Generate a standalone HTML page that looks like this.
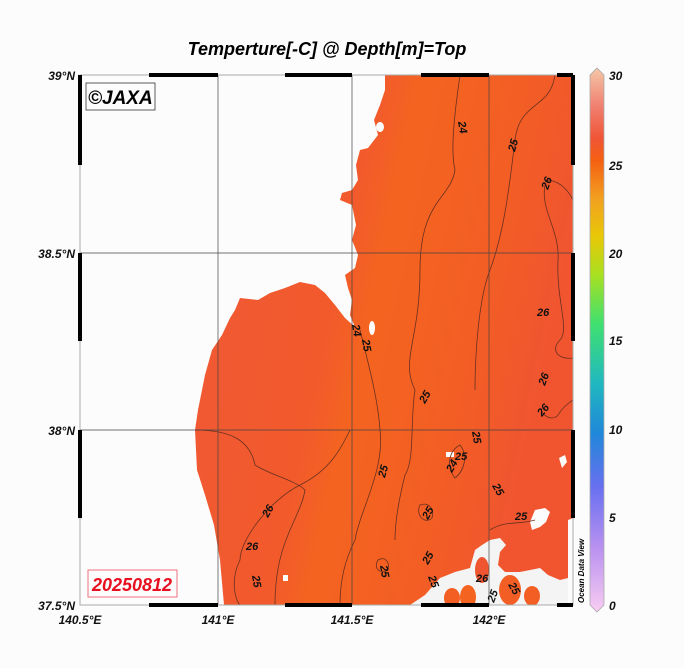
<!DOCTYPE html>
<html><head><meta charset="utf-8"><style>
html,body{margin:0;padding:0;background:#fcfcfc;}
svg{display:block;font-family:"Liberation Sans",sans-serif;}
.l{font-size:12px;font-weight:bold;font-style:italic;fill:#111;}
.c{font-size:11px;font-weight:bold;font-style:italic;fill:#111;}
</style></head><body>
<svg width="684" height="668" viewBox="0 0 684 668">
<defs>
<linearGradient id="sea" x1="0" y1="0" x2="1" y2="0.3">
<stop offset="0" stop-color="#ef5836"/><stop offset="0.45" stop-color="#f25a2c"/><stop offset="0.55" stop-color="#f46420"/><stop offset="0.8" stop-color="#f35e24"/><stop offset="1" stop-color="#f05530"/>
</linearGradient>
<linearGradient id="cb" x1="0" y1="0" x2="0" y2="1">
<stop offset="0" stop-color="#f4c8a8"/><stop offset="0.07" stop-color="#f08070"/><stop offset="0.13" stop-color="#f05535"/><stop offset="0.17" stop-color="#f46012"/><stop offset="0.24" stop-color="#f2a020"/><stop offset="0.31" stop-color="#e8c808"/><stop offset="0.38" stop-color="#a8e020"/><stop offset="0.47" stop-color="#40e070"/><stop offset="0.58" stop-color="#20b8c0"/><stop offset="0.67" stop-color="#2088d8"/><stop offset="0.77" stop-color="#6870f0"/><stop offset="0.88" stop-color="#b890f0"/><stop offset="1" stop-color="#f8cdf2"/>
</linearGradient>
<clipPath id="pc"><rect x="80" y="75" width="493" height="530"/></clipPath>
</defs>
<text x="327" y="55" text-anchor="middle" style="font-size:18px;font-weight:bold;font-style:italic">Temperture[-C] @ Depth[m]=Top</text>
<rect x="80" y="75" width="493" height="530" fill="#fcfcfc"/>
<g clip-path="url(#pc)">
<path fill="url(#sea)" d="M385,75 L385,90 380,105 374,120 378,135 368,148 360,150 356,165 358,180 352,190 342,193 340,200 352,205 356,225 352,240 358,255 355,268 345,275 348,288 352,300 350,315 355,327 345,318 335,305 325,293 315,285 300,282 285,288 270,293 258,300 240,298 235,310 230,318 222,335 212,350 205,375 198,410 195,430 197,470 205,495 214,525 220,560 224,605 573,605 573,75 Z"/>
<path fill="#f4f4f4" d="M410,605 L425,595 440,578 455,572 470,568 475,550 482,545 490,540 500,538 506,545 500,552 498,565 505,572 520,572 540,568 548,575 560,580 568,578 573,575 573,605 Z"/>
<ellipse cx="482" cy="570" rx="7" ry="13" fill="#ee5530"/>
<ellipse cx="452" cy="598" rx="8" ry="10" fill="#f35e22"/>
<ellipse cx="468" cy="597" rx="8" ry="12" fill="#f46420"/>
<ellipse cx="510" cy="590" rx="11" ry="15" fill="#f35e24"/>
<ellipse cx="532" cy="596" rx="8" ry="10" fill="#f35e24"/>
<path fill="#fcfcfc" d="M530,522 L535,510 545,508 550,512 546,522 540,527 532,530 Z"/>
<path fill="#fcfcfc" d="M568,520 L573,518 573,605 568,605 Z"/>
<path fill="#fcfcfc" d="M559,458 L565,455 567,462 562,468 Z"/>
<ellipse cx="380" cy="127" rx="4" ry="5" fill="#fcfcfc"/>
<ellipse cx="372" cy="328" rx="3" ry="7" fill="#fcfcfc"/>
<rect x="283" y="575" width="5" height="6" fill="#fcfcfc"/>
<rect x="446" y="452" width="8" height="5" fill="#fcfcfc"/>
<g fill="none" stroke="#6a3020" stroke-width="0.8">
<path d="M460,75 C455,110 450,150 455,170 C450,200 420,200 420,270 C420,340 400,360 415,390 C410,420 415,460 405,475 C400,495 395,520 395,540"/>
<path d="M555,75 C550,110 520,100 515,140 C510,180 505,230 490,270 C478,300 475,360 475,390"/>
<path d="M545,180 C560,180 568,190 573,200"/>
<path d="M545,185 C540,210 560,230 558,260 C556,300 570,330 560,340 C550,350 558,360 573,358"/>
<path d="M542,412 C548,420 556,420 560,412 C565,405 573,400 573,400"/>
<path d="M360,330 C370,370 378,400 380,430 C385,470 360,510 355,540 C345,560 340,580 340,605"/>
<path d="M350,430 C340,450 330,470 300,485 C270,500 240,540 240,560 C230,580 235,600 240,605"/>
<path d="M195,430 C230,430 250,440 255,465 C270,475 295,480 305,490 C300,520 275,540 275,605"/>
<path d="M460,445 C450,450 445,465 455,478 C465,470 468,455 460,445 Z"/>
<path d="M420,505 C415,515 425,525 432,518 C435,508 428,502 420,505 Z"/>
<path d="M378,560 C373,568 380,575 388,570 C390,562 385,556 378,560 Z"/>
<path d="M490,530 C505,520 520,525 535,520"/>
</g>
</g>
<g stroke="#444" stroke-width="0.7">
<line x1="218" y1="75" x2="218" y2="605"/><line x1="352" y1="75" x2="352" y2="605"/><line x1="489" y1="75" x2="489" y2="605"/>
<line x1="80" y1="253" x2="573" y2="253"/><line x1="80" y1="430" x2="573" y2="430"/>
</g>
<rect x="80" y="75" width="493" height="530" fill="none" stroke="#aaa" stroke-width="1"/>
<g fill="#000">
<rect x="149" y="73" width="69" height="4"/><rect x="285" y="73" width="67" height="4"/><rect x="421" y="73" width="68" height="4"/><rect x="557" y="73" width="16" height="4"/>
<rect x="149" y="603" width="69" height="4"/><rect x="285" y="603" width="67" height="4"/><rect x="421" y="603" width="68" height="4"/><rect x="557" y="603" width="16" height="4"/>
<rect x="78" y="75" width="4" height="90"/><rect x="78" y="253" width="4" height="88"/><rect x="78" y="430" width="4" height="88"/>
<rect x="571" y="75" width="4" height="90"/><rect x="571" y="253" width="4" height="88"/><rect x="571" y="430" width="4" height="88"/>
</g>
<text class="c" x="458" y="122" transform="rotate(80 458 122)">24</text>
<text class="c" x="515" y="152" transform="rotate(-75 515 152)">25</text>
<text class="c" x="548" y="190" transform="rotate(-70 548 190)">26</text>
<text class="c" x="537" y="316">26</text>
<text class="c" x="545" y="386" transform="rotate(-70 545 386)">26</text>
<text class="c" x="542" y="417" transform="rotate(-50 542 417)">26</text>
<text class="c" x="425" y="404" transform="rotate(-60 425 404)">25</text>
<text class="c" x="472" y="432" transform="rotate(80 472 432)">25</text>
<text class="c" x="455" y="460">25</text>
<text class="c" x="452" y="473" transform="rotate(-60 452 473)">24</text>
<text class="c" x="492" y="486" transform="rotate(60 492 486)">25</text>
<text class="c" x="385" y="478" transform="rotate(-75 385 478)">25</text>
<text class="c" x="515" y="520">25</text>
<text class="c" x="428" y="520" transform="rotate(-60 428 520)">25</text>
<text class="c" x="268" y="518" transform="rotate(-60 268 518)">26</text>
<text class="c" x="246" y="550">26</text>
<text class="c" x="252" y="576" transform="rotate(80 252 576)">25</text>
<text class="c" x="428" y="565" transform="rotate(-60 428 565)">25</text>
<text class="c" x="380" y="566" transform="rotate(80 380 566)">25</text>
<text class="c" x="428" y="577" transform="rotate(70 428 577)">25</text>
<text class="c" x="476" y="582">26</text>
<text class="c" x="494" y="603" transform="rotate(-70 494 603)">25</text>
<text class="c" x="508" y="585" transform="rotate(60 508 585)">25</text>
<text class="c" x="352" y="325" transform="rotate(80 352 325)">24</text>
<text class="c" x="362" y="340" transform="rotate(80 362 340)">25</text>
<rect x="86" y="83" width="69" height="27" fill="#fcfcfc" stroke="#333" stroke-width="0.8"/>
<text x="88" y="104" style="font-size:19px;font-weight:bold;font-style:italic">©JAXA</text>
<rect x="88" y="570" width="89" height="27" fill="#fcfcfc" stroke="#f07080" stroke-width="1"/>
<text x="132" y="591" text-anchor="middle" style="font-size:18px;font-weight:bold;font-style:italic;fill:#e81020">20250812</text>
<g class="l" text-anchor="end">
<text x="75" y="80">39°N</text><text x="75" y="258">38.5°N</text><text x="75" y="435">38°N</text><text x="75" y="610">37.5°N</text>
</g>
<g class="l" text-anchor="middle">
<text x="80" y="624">140.5°E</text><text x="218" y="624">141°E</text><text x="352" y="624">141.5°E</text><text x="489" y="624">142°E</text>
</g>
<text x="584" y="603" transform="rotate(-90 584 603)" style="font-size:8px;font-weight:bold;font-style:italic">Ocean Data View</text>
<path d="M590,75 L597,68 604,75 L604,605 L597,612 590,605 Z" fill="url(#cb)" stroke="#aaa" stroke-width="0.8"/>
<g class="l">
<text x="609" y="80">30</text><text x="609" y="170">25</text><text x="609" y="258">20</text><text x="609" y="345">15</text><text x="609" y="434">10</text><text x="609" y="522">5</text><text x="609" y="610">0</text>
</g>
</svg>
</body></html>
